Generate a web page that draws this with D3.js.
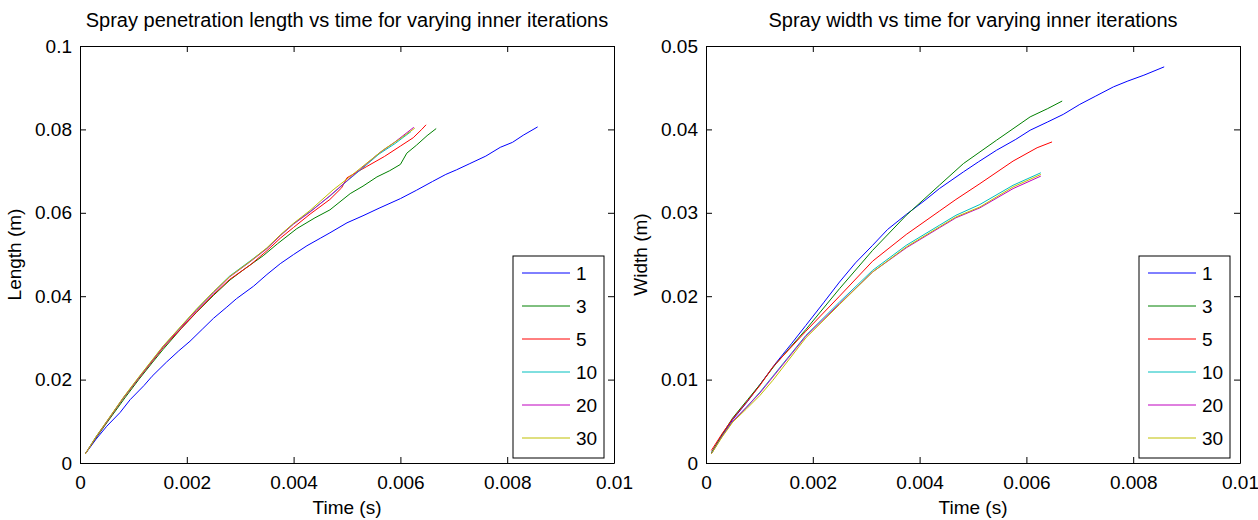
<!DOCTYPE html>
<html lang="en">
  <head>
    <meta charset="UTF-8" />
    <title>Spray penetration and width</title>
    <style>
      body { margin: 0; background: #fff; }
      svg { font-family: "Liberation Sans", Arial, sans-serif; }
      .line { fill: none; stroke-width: 1; }
      .axis path, .axis line { stroke: #000; }
      .axis text { font-size: 19px; fill: #000; }
      .ttl { font-size: 20px; }
      .lbl { font-size: 19px; }
    </style>
  </head>
  <body>
    <svg id="container" width="1258" height="520"></svg>
  </body>
  <script src="https://cdn.jsdelivr.net/npm/d3@7"></script>
  <script>
    // legend labels and colours (matlab default order)
    const iterations = ["1", "3", "5", "10", "20", "30"];
    const colors = ["#0000ff", "#008000", "#ff0000", "#00bfbf", "#bf00bf", "#bfbf00"];

    const timeTicks = [0, 0.002, 0.004, 0.006, 0.008, 0.01];
    const lengthTicks = [0, 0.02, 0.04, 0.06, 0.08, 0.1];
    const widthTicks = [0, 0.01, 0.02, 0.03, 0.04, 0.05];

    // penetration length [time (s), length (m)]
    const length1 = [[0.0001,0.0022],[0.0003,0.0057],[0.0005,0.0088],[0.00075,0.0121],[0.00094,0.0152],[0.0012,0.0186],[0.00135,0.0208],[0.00162,0.0242],[0.00185,0.0269],[0.00206,0.0292],[0.0023,0.0322],[0.0025,0.0347],[0.00275,0.0374],[0.00293,0.0394],[0.00325,0.0424],[0.0035,0.0452],[0.00375,0.0478],[0.004,0.0500],[0.00425,0.0521],[0.0045,0.0539],[0.00468,0.0552],[0.005,0.0576],[0.0053,0.0593],[0.0056,0.0611],[0.006,0.0634],[0.0063,0.0654],[0.0066,0.0675],[0.00685,0.0692],[0.00705,0.0703],[0.0073,0.0718],[0.0076,0.0736],[0.00787,0.0757],[0.0081,0.0769],[0.0083,0.0786],[0.00857,0.0806]];
    const length3 = [[0.0001,0.0022],[0.0003,0.0060],[0.0005,0.0096],[0.00084,0.0156],[0.0011,0.0200],[0.00135,0.0240],[0.00156,0.0273],[0.0019,0.0323],[0.00218,0.0361],[0.0025,0.0402],[0.00281,0.0439],[0.0031,0.0467],[0.00343,0.0497],[0.0037,0.0526],[0.00406,0.0562],[0.0044,0.0588],[0.00468,0.0607],[0.00506,0.0646],[0.0053,0.0664],[0.00556,0.0686],[0.0058,0.0701],[0.006,0.0716],[0.00612,0.0743],[0.0063,0.0762],[0.0065,0.0785],[0.00667,0.0802]];
    const length5 = [[0.0001,0.0022],[0.0003,0.0062],[0.0005,0.0098],[0.00081,0.0155],[0.0011,0.0203],[0.00156,0.0277],[0.00218,0.0362],[0.0025,0.0404],[0.0028,0.0440],[0.00318,0.0474],[0.0035,0.0509],[0.00375,0.0539],[0.004,0.0565],[0.00431,0.0597],[0.00468,0.0632],[0.0049,0.0660],[0.005,0.0684],[0.00537,0.0711],[0.0057,0.0735],[0.006,0.0760],[0.00624,0.0780],[0.0064,0.0800],[0.00648,0.0811]];
    const length10 = [[0.0001,0.0022],[0.0003,0.0063],[0.0005,0.0099],[0.00081,0.0156],[0.0011,0.0205],[0.00156,0.0280],[0.00218,0.0368],[0.0025,0.0410],[0.0028,0.0448],[0.00318,0.0484],[0.0035,0.0515],[0.00375,0.0546],[0.004,0.0574],[0.00431,0.0603],[0.00468,0.0640],[0.005,0.0676],[0.0053,0.0708],[0.0056,0.0741],[0.0059,0.0766],[0.0062,0.0795]];
    const length20 = [[0.0001,0.0022],[0.0003,0.0062],[0.0005,0.0099],[0.00081,0.0156],[0.0011,0.0204],[0.00156,0.0279],[0.00218,0.0366],[0.0025,0.0408],[0.0028,0.0446],[0.00318,0.0482],[0.0035,0.0514],[0.00375,0.0545],[0.004,0.0573],[0.00431,0.0602],[0.00468,0.0641],[0.005,0.0677],[0.0053,0.0710],[0.0056,0.0743],[0.0059,0.0770],[0.00625,0.0805]];
    const length30 = [[0.0001,0.0022],[0.0003,0.0063],[0.0005,0.0100],[0.00081,0.0157],[0.0011,0.0206],[0.00156,0.0281],[0.00218,0.0369],[0.0025,0.0411],[0.0028,0.0447],[0.00318,0.0483],[0.0035,0.0516],[0.00375,0.0547],[0.004,0.0575],[0.00431,0.0606],[0.00474,0.0655],[0.005,0.0681],[0.0053,0.0712],[0.00568,0.0751],[0.006,0.0778],[0.00627,0.0803]];

    // spray width [time (s), width (m)]
    const width1 = [[0.0001,0.0012],[0.0003,0.0033],[0.0005,0.0052],[0.00078,0.0074],[0.00101,0.0094],[0.00131,0.0120],[0.0016,0.0143],[0.00187,0.0165],[0.0022,0.0192],[0.0025,0.0217],[0.0028,0.0240],[0.00312,0.0261],[0.0034,0.0280],[0.00375,0.0298],[0.0041,0.0315],[0.00437,0.0329],[0.00482,0.0349],[0.0051,0.0361],[0.00544,0.0375],[0.0058,0.0388],[0.00607,0.0399],[0.0064,0.0409],[0.00669,0.0418],[0.007,0.0430],[0.0073,0.0440],[0.00763,0.0451],[0.0079,0.0458],[0.0082,0.0465],[0.00858,0.0475]];
    const width3 = [[0.0001,0.0012],[0.0003,0.0034],[0.0005,0.0054],[0.00078,0.0076],[0.00101,0.0094],[0.00131,0.0119],[0.00187,0.0160],[0.0025,0.0209],[0.00312,0.0255],[0.00375,0.0297],[0.00437,0.0333],[0.00482,0.0359],[0.00544,0.0387],[0.00607,0.0415],[0.0064,0.0425],[0.00667,0.0434]];
    const width5 = [[0.0001,0.0015],[0.0003,0.0035],[0.0005,0.0053],[0.00076,0.0073],[0.00101,0.0093],[0.00125,0.0115],[0.00187,0.0158],[0.0025,0.0200],[0.00312,0.0242],[0.00375,0.0274],[0.00437,0.0302],[0.00468,0.0316],[0.00513,0.0335],[0.00575,0.0362],[0.0062,0.0378],[0.00648,0.0385]];
    const width10 = [[0.0001,0.0011],[0.0003,0.0032],[0.0005,0.0050],[0.00076,0.0067],[0.00101,0.0085],[0.00125,0.0104],[0.00187,0.0153],[0.0025,0.0193],[0.00312,0.0231],[0.00375,0.0261],[0.00437,0.0285],[0.00468,0.0297],[0.00513,0.0310],[0.00575,0.0333],[0.00627,0.0348]];
    const width20 = [[0.0001,0.0011],[0.0003,0.0032],[0.0005,0.0050],[0.00076,0.0067],[0.00101,0.0084],[0.00125,0.0103],[0.00187,0.0152],[0.0025,0.0191],[0.00312,0.0229],[0.00375,0.0258],[0.00437,0.0282],[0.00468,0.0294],[0.00513,0.0306],[0.00575,0.0329],[0.00627,0.0344]];
    const width30 = [[0.0001,0.0011],[0.0003,0.0031],[0.0005,0.0049],[0.00076,0.0065],[0.00101,0.0081],[0.00125,0.0099],[0.00187,0.0150],[0.0025,0.0190],[0.00312,0.0229],[0.00375,0.0259],[0.00437,0.0283],[0.00468,0.0295],[0.00513,0.0307],[0.00575,0.0331],[0.00627,0.0346]];

    const svg = d3.select("#container");

    // draw one matlab-style panel
    function drawPanel(left, title, yLabel, yTicks, yMax, series) {
      let top = 46, bodyWidth = 534, bodyHeight = 417;
      let g = svg.append("g").attr("transform", "translate(" + left + "," + top + ")");

      let xScale = d3.scaleLinear().domain([0, 0.01]).range([0, bodyWidth]);
      let yScale = d3.scaleLinear().domain([0, yMax]).range([bodyHeight, 0]);
      let fmt = d3.format("~g");

      // ticks on all four sides, pointing inwards
      g.append("g").attr("class", "axis")
        .attr("transform", "translate(0," + bodyHeight + ")")
        .call(d3.axisBottom(xScale).tickValues(timeTicks).tickFormat(fmt).tickSizeInner(-6).tickSizeOuter(0).tickPadding(13));
      g.append("g").attr("class", "axis")
        .call(d3.axisTop(xScale).tickValues(timeTicks).tickFormat("").tickSizeInner(-6).tickSizeOuter(0));
      g.append("g").attr("class", "axis")
        .call(d3.axisLeft(yScale).tickValues(yTicks).tickFormat(fmt).tickSizeInner(-6).tickSizeOuter(0).tickPadding(8));
      g.append("g").attr("class", "axis")
        .attr("transform", "translate(" + bodyWidth + ",0)")
        .call(d3.axisRight(yScale).tickValues(yTicks).tickFormat("").tickSizeInner(-6).tickSizeOuter(0));

      let line = d3.line().x(d => xScale(d[0])).y(d => yScale(d[1]));
      series.forEach((s, i) => {
        g.append("path").datum(s).attr("class", "line").attr("stroke", colors[i]).attr("d", line);
      });

      g.append("text").attr("class", "ttl").attr("x", bodyWidth / 2).attr("y", -19)
        .attr("text-anchor", "middle").text(title);
      g.append("text").attr("class", "lbl").attr("x", bodyWidth / 2).attr("y", bodyHeight + 51)
        .attr("text-anchor", "middle").text("Time (s)");
      g.append("text").attr("class", "lbl")
        .attr("transform", "translate(-59," + bodyHeight / 2 + ") rotate(-90)")
        .attr("text-anchor", "middle").text(yLabel);

      // legend box
      let lg = g.append("g").attr("transform", "translate(" + (bodyWidth - 101) + ",210)");
      lg.append("rect").attr("width", 91).attr("height", 202)
        .attr("fill", "#fff").attr("stroke", "#000");
      iterations.forEach((name, i) => {
        let y = 17 + i * 33;
        lg.append("line").attr("x1", 9).attr("x2", 57).attr("y1", y).attr("y2", y)
          .attr("stroke", colors[i]);
        lg.append("text").attr("x", 63).attr("y", y + 7).style("font-size", "19px").text(name);
      });
    }

    drawPanel(80, "Spray penetration length vs time for varying inner iterations", "Length (m)",
      lengthTicks, 0.1, [length1, length3, length5, length10, length20, length30]);
    drawPanel(706, "Spray width vs time for varying inner iterations", "Width (m)",
      widthTicks, 0.05, [width1, width3, width5, width10, width20, width30]);
  </script>
</html>
